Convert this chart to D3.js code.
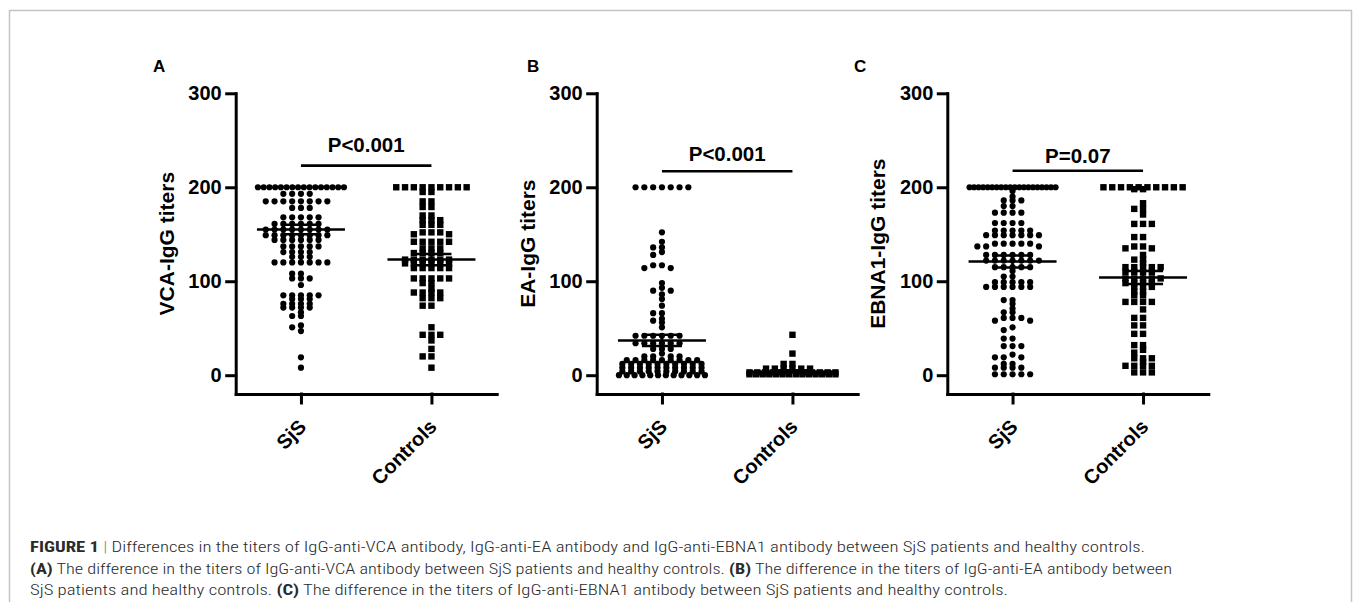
<!DOCTYPE html>
<html>
<head>
<meta charset="utf-8">
<script src="https://cdn.jsdelivr.net/npm/d3@7"></script>
<style>
  body { margin: 0; background: #fff; }
  svg { display: block; }
  .axis path, .axis line { stroke: #000; stroke-width: 3; stroke-linecap: square; }
  .axis text, .chart-text { font-family: "Liberation Sans", Arial, sans-serif; font-weight: bold; fill: #000; }
  .caption { font-family: "Liberation Sans Narrow", "Roboto Condensed", Roboto, sans-serif; font-size: 15px; font-weight: 300; fill: #2a2a2a; }
</style>
</head>
<body>
<svg id="chart" width="1355" height="602"></svg>
<script>
// ---- data ----
const categories = ['SjS', 'Controls'];
const yTickValues = [0, 100, 200, 300];
const panelLetters = ['A', 'B', 'C'];
const yTitles = ['VCA-IgG titers', 'EA-IgG titers', 'EBNA1-IgG titers'];
const pLabels = ['P<0.001', 'P<0.001', 'P=0.07'];
const pBarValues = [223, 217, 217.5];
const pTextValues = [238, 228, 225.5];

const vcaSjs = [
  200, 200, 200, 200, 200, 200, 200, 200, 200, 200, 200, 200, 200, 200, 200, 200,
  193, 193, 193, 193, 185, 185, 185, 185, 185, 185, 185, 185, 178, 178, 178,
  168, 168, 168, 168, 168, 161, 161, 161, 161, 161, 161,
  155, 155, 155, 155, 155, 155, 155, 155, 149, 149, 149, 149, 149, 149, 149, 149,
  144, 144, 144, 144, 144, 144, 137, 137, 137, 137, 137, 131, 131, 131, 131,
  126, 126, 126, 120, 120, 120, 120, 120, 120, 120, 108, 108, 103, 103, 103, 96,
  85, 85, 85, 85, 85, 81, 81, 81, 76, 76, 76, 76, 72, 72, 72, 72,
  67, 63, 63, 53, 51, 47, 19, 8
];
const vcaControls = [
  200, 200, 200, 200, 200, 200, 200, 200, 200, 195, 195, 185, 185, 179, 179, 170, 170,
  165, 165, 165, 160, 160, 160, 152, 152, 152, 150, 150, 142, 142, 142, 142, 142,
  135, 135, 135, 130, 130, 130, 130, 123, 123, 123, 123, 123, 123,
  119, 119, 119, 119, 119, 119, 114, 114, 114, 114, 114, 103, 103, 103, 103, 103,
  98, 98, 92, 88, 88, 88, 88, 82, 82, 82, 74, 74,
  51, 43, 43, 43, 37, 28, 20, 20, 8
];
const eaSjs = [
  200, 200, 200, 200, 200, 200, 200,
  152, 142, 136, 136, 131, 128, 117, 117, 114, 114, 98, 93, 90, 90, 86, 81, 74,
  66, 66, 60, 58, 56, 51,
  42, 42, 42, 42, 42, 42, 34, 34, 34, 34, 34, 34, 28, 28, 28, 23, 20, 20, 20, 20,
  16, 16, 16, 16, 16, 16, 16, 16, 16, 12, 12, 12, 12, 12, 12, 12, 12, 12, 12,
  8, 8, 8, 8, 8, 8, 8, 8, 8, 8, 4, 4, 4, 4, 4, 4, 4, 4, 4, 4,
  0, 0, 0, 0, 0, 0, 0, 0, 0, 0, 0, 0
];
const eaControls = [
  43, 23, 12, 12, 7, 7, 7, 7, 7, 7,
  3, 3, 3, 3, 3, 3, 3, 3, 3, 3, 3, 3,
  1, 1, 1, 1, 1, 1, 1, 1, 1, 1, 1, 1, 1, 1
];
const ebnaSjs = [
  200, 200, 200, 200, 200, 200, 200, 200, 200, 200, 200, 200, 200, 200, 200, 200, 200, 200, 200, 200,
  196, 190, 186, 186, 186, 180, 180, 173, 173, 173, 173, 162, 162, 162, 162,
  154, 154, 154, 154, 154, 149, 149, 149, 149, 149, 149, 149, 140, 140, 140, 140, 140, 137, 137, 137,
  128, 128, 128, 128, 128, 128, 122, 122, 122, 122, 122, 122, 122, 115, 115, 115, 115, 115, 111,
  105, 105, 99, 99, 99, 99, 99, 94, 94, 94, 94, 94, 94,
  80, 80, 76, 71, 67, 67, 61, 61, 61, 58, 58, 51, 48, 39, 39, 31, 31, 31, 22, 19, 19, 19,
  12, 12, 8, 8, 8, 8, 1, 1, 1, 1, 1
];
const ebnaControls = [
  200, 200, 200, 200, 200, 200, 200, 200, 200, 200, 198, 198, 183, 177, 177, 171, 161, 161, 161,
  147, 147, 137, 137, 135, 135, 128, 123, 123, 119, 115, 115, 115, 115, 115, 110, 110, 110, 110,
  103, 103, 103, 103, 103, 98, 98, 98, 98, 94, 94, 94, 89, 89, 85, 85, 78, 78, 78, 78,
  70, 61, 61, 53, 53, 44, 44, 32, 32, 27, 24, 18, 18, 18, 14, 10, 10, 10, 10, 3, 3, 3
];
const meanValues = [[155, 123], [37, 4], [121, 104]];
const semValues = [[5, 6], [6, 1], [6.5, 7]];

const panelData = [
  [vcaSjs, vcaControls],
  [eaSjs, eaControls],
  [ebnaSjs, ebnaControls]
];

// ---- layout ----
const panelX = [235.7, 596.7, 947.3];
const letterX = [153, 527, 854];
const plotWidth = 261;
const swarmOpts = { step: 8.8, maxK: 4, maxHalf: 43, minDy: 3.2 };
const columnOrder = [0, -1, 1, -2, 2, -3, 3, -4, 4];

const svg = d3.select('#chart');

svg.append('rect')
  .attr('x', 9.5).attr('y', 10.5)
  .attr('width', 1342).attr('height', 640)
  .attr('fill', 'none')
  .attr('stroke', '#c4c4c4')
  .attr('stroke-width', 1.5);

const y = d3.scaleLinear().domain([-20, 300]).range([394, 93.3]);

// GraphPad-like column scatter: identical values sit on a row,
// nearby values get pushed to the next free column
function swarm(values, cx) {
  const sorted = values.slice().sort((a, b) => b - a);
  const placed = [];
  d3.groups(sorted, (d) => d).forEach(([v, members]) => {
    const py = y(v);
    const n = members.length;
    if (n > columnOrder.length) {
      const step = Math.min(swarmOpts.step, 2 * swarmOpts.maxHalf / (n - 1));
      members.forEach((m, i) => placed.push({ v, x: cx + (i - (n - 1) / 2) * step, y: py }));
      return;
    }
    members.forEach(() => {
      let best = null;
      let bestGap = -1;
      for (const k of columnOrder) {
        const px = cx + k * swarmOpts.step;
        let gap = Infinity;
        placed.forEach((p) => {
          if (Math.abs(p.x - px) < swarmOpts.step * 0.8) gap = Math.min(gap, Math.abs(p.y - py));
        });
        if (gap >= swarmOpts.minDy) { best = px; break; }
        if (gap > bestGap) { bestGap = gap; best = px; }
      }
      placed.push({ v, x: best, y: py });
    });
  });
  return placed;
}

panelData.forEach((series, pi) => {
  const g = svg.append('g').attr('transform', `translate(${panelX[pi]},0)`);

  const x = d3.scalePoint()
    .domain(categories)
    .range([0, plotWidth])
    .padding(0.5);

  // y axis
  const yAxisG = g.append('g')
    .attr('class', 'axis')
    .call(d3.axisLeft(y).tickValues(yTickValues).tickSize(9).tickSizeOuter(0).tickPadding(5));
  yAxisG.attr('font-family', null).attr('font-size', null);
  yAxisG.selectAll('text').style('font-size', '20px');

  // x axis
  const xAxisG = g.append('g')
    .attr('class', 'axis')
    .attr('transform', `translate(0,${y(-20)})`)
    .call(d3.axisBottom(x).tickSize(9).tickSizeOuter(0));
  xAxisG.attr('font-family', null).attr('font-size', null);
  xAxisG.selectAll('text')
    .attr('x', 0).attr('y', 0).attr('dy', 0)
    .attr('text-anchor', 'end')
    .attr('transform', 'translate(6,34) rotate(-45)')
    .style('font-size', '20px');

  // axis title
  g.append('text')
    .attr('class', 'chart-text')
    .attr('text-anchor', 'middle')
    .attr('transform', `translate(-62,${y(140)}) rotate(-90)`)
    .style('font-size', '21px')
    .text(yTitles[pi]);

  // panel letter
  svg.append('text')
    .attr('class', 'chart-text')
    .attr('x', letterX[pi]).attr('y', 72)
    .style('font-size', '17px')
    .text(panelLetters[pi]);

  // points
  series.forEach((vals, ci) => {
    const pts = swarm(vals, x(categories[ci]));
    if (ci === 0) {
      g.append('g').selectAll('circle')
        .data(pts)
        .enter()
        .append('circle')
          .attr('cx', (d) => d.x)
          .attr('cy', (d) => d.y)
          .attr('r', 3.1)
          .attr('fill', '#000');
    } else {
      g.append('g').selectAll('rect')
        .data(pts)
        .enter()
        .append('rect')
          .attr('x', (d) => d.x - 3.2)
          .attr('y', (d) => d.y - 3.2)
          .attr('width', 6.4)
          .attr('height', 6.4)
          .attr('fill', '#000');
    }

    // mean +/- SEM
    const cx = x(categories[ci]);
    const m = meanValues[pi][ci];
    const s = semValues[pi][ci];
    const eg = g.append('g').attr('stroke', '#000').attr('stroke-width', 2.5);
    eg.append('line')
      .attr('x1', cx - 44).attr('x2', cx + 44)
      .attr('y1', y(m)).attr('y2', y(m));
    [m - s, m + s].forEach((v) => {
      eg.append('line')
        .attr('x1', cx - 20).attr('x2', cx + 20)
        .attr('y1', y(v)).attr('y2', y(v));
    });
    eg.append('line')
      .attr('x1', cx).attr('x2', cx)
      .attr('y1', y(m - s)).attr('y2', y(m + s));
  });

  // significance bar
  g.append('line')
    .attr('x1', x(categories[0])).attr('x2', x(categories[1]))
    .attr('y1', y(pBarValues[pi])).attr('y2', y(pBarValues[pi]))
    .attr('stroke', '#000').attr('stroke-width', 2.6);
  g.append('text')
    .attr('class', 'chart-text')
    .attr('x', (x(categories[0]) + x(categories[1])) / 2)
    .attr('y', y(pTextValues[pi]))
    .attr('text-anchor', 'middle')
    .style('font-size', '20.5px')
    .text(pLabels[pi]);
});

// ---- caption ----
const captionLines = [
  { y: 552, len: 1115, parts: [
    ['FIGURE 1', true], [' | ', false, '#8a8a8a'],
    ['Differences in the titers of IgG-anti-VCA antibody, IgG-anti-EA antibody and IgG-anti-EBNA1 antibody between SjS patients and healthy controls.', false]
  ] },
  { y: 573.5, len: 1142, parts: [
    ['(A)', true],
    [' The difference in the titers of IgG-anti-VCA antibody between SjS patients and healthy controls. ', false],
    ['(B)', true],
    [' The difference in the titers of IgG-anti-EA antibody between', false]
  ] },
  { y: 595, len: 978, parts: [
    ['SjS patients and healthy controls. ', false],
    ['(C)', true],
    [' The difference in the titers of IgG-anti-EBNA1 antibody between SjS patients and healthy controls.', false]
  ] }
];

captionLines.forEach((line) => {
  const t = svg.append('text')
    .attr('class', 'caption')
    .attr('x', 30)
    .attr('y', line.y)
    .attr('textLength', line.len)
    .attr('lengthAdjust', 'spacingAndGlyphs')
    .attr('xml:space', 'preserve');
  line.parts.forEach(([str, bold, color]) => {
    const ts = t.append('tspan').text(str);
    if (bold) ts.attr('font-weight', 'bold');
    if (color) ts.attr('fill', color);
  });
});
</script>
</body>
</html>
